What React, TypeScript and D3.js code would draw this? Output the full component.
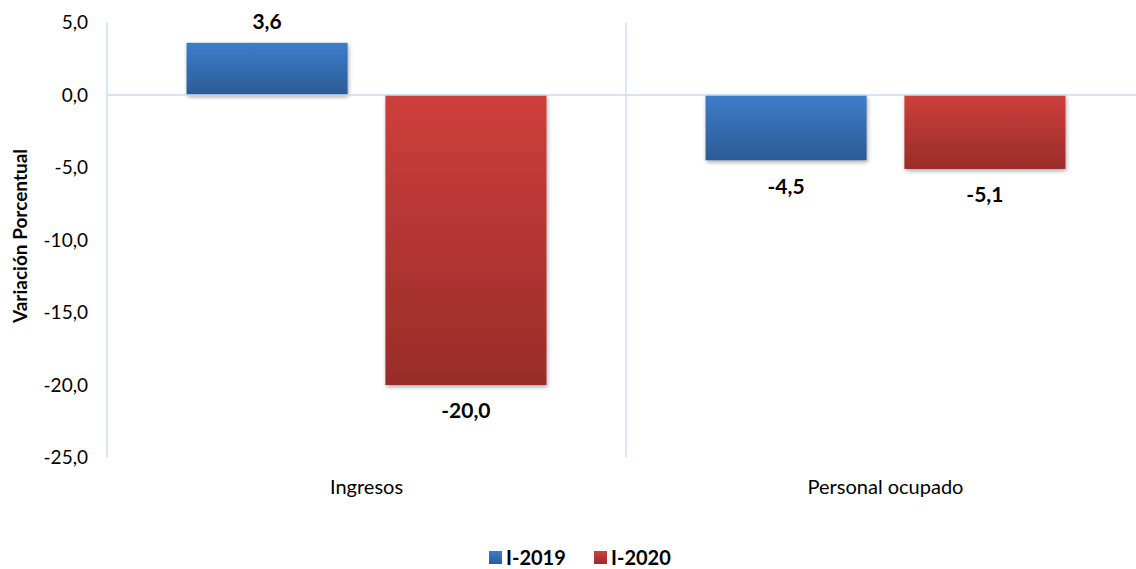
import React, { useRef, useEffect } from "react";
import * as d3 from "d3";

// chart data
const categories = ["Ingresos", "Personal ocupado"];
const seriesNames = ["I-2019", "I-2020"];
const values2019 = [3.6, -4.5];
const values2020 = [-20.0, -5.1];
const yTicks = [5, 0, -5, -10, -15, -20, -25];

const colors = [
    { top: "#3e7dcb", bottom: "#2b5b95" },
    { top: "#ce3f3c", bottom: "#992c29" },
];

const W = 1136;
const H = 569;
const FONT = "Lato, 'Open Sans', sans-serif";

const fmt = (v: number) => d3.format(".1f")(v).replace("−", "-").replace(".", ",");

export default function App() {
    const svgRef = useRef<SVGSVGElement | null>(null);

    useEffect(() => {
        if (!svgRef.current) return;
        const svg = d3.select(svgRef.current);
        svg.selectAll("*").remove();

        const left = 107;
        const right = 1145;
        const top = 22.5;
        const bottom = 457.5;

        const defs = svg.append("defs");
        colors.forEach((c, i) => {
            const g = defs
                .append("linearGradient")
                .attr("id", `grad${i}`)
                .attr("x1", 0)
                .attr("y1", 0)
                .attr("x2", 0)
                .attr("y2", 1);
            g.append("stop").attr("offset", "0%").attr("stop-color", c.top);
            g.append("stop").attr("offset", "100%").attr("stop-color", c.bottom);
        });
        const filter = defs
            .append("filter")
            .attr("id", "shadow")
            .attr("x", "-10%")
            .attr("y", "-10%")
            .attr("width", "130%")
            .attr("height", "130%");
        filter
            .append("feDropShadow")
            .attr("dx", 1)
            .attr("dy", 2)
            .attr("stdDeviation", 2)
            .attr("flood-color", "#000")
            .attr("flood-opacity", 0.35);

        const y = d3.scaleLinear().domain([-25, 5]).range([bottom, top]);
        const x0 = d3.scaleBand<string>().domain(categories).range([left, right]);
        const x1 = d3
            .scaleBand<string>()
            .domain(seriesNames)
            .range([0, x0.bandwidth()])
            .paddingInner(0.19)
            .paddingOuter(0.4);

        const gridColor = "#c9daf0";

        // vertical category separators
        const seps = [left, ...categories.map((c) => (x0(c) as number) + x0.bandwidth())];
        svg.append("g")
            .selectAll("line")
            .data(seps)
            .enter()
            .append("line")
            .attr("x1", (d) => d)
            .attr("x2", (d) => d)
            .attr("y1", top)
            .attr("y2", bottom)
            .attr("stroke", gridColor)
            .attr("stroke-width", 1.3);

        // y tick labels
        svg.append("g")
            .selectAll("text")
            .data(yTicks)
            .enter()
            .append("text")
            .attr("x", 88)
            .attr("y", (d) => y(d))
            .attr("dy", "0.35em")
            .attr("text-anchor", "end")
            .style("font-family", FONT)
            .style("font-size", "19px")
            .style("fill", "#000")
            .text((d) => fmt(d));

        // y title
        svg.append("text")
            .attr("transform", `translate(20, 236) rotate(-90)`)
            .attr("text-anchor", "middle")
            .attr("dy", "0.35em")
            .style("font-family", FONT)
            .style("font-size", "19px")
            .style("font-weight", "bold")
            .text("Variación Porcentual");

        const rows = categories.map((c, i) => ({
            cat: c,
            vals: [values2019[i], values2020[i]],
        }));

        const bars = rows.flatMap((r) =>
            r.vals.map((v, j) => ({ cat: r.cat, series: seriesNames[j], j, v }))
        );

        const bx = (d: { cat: string; series: string }) =>
            (x0(d.cat) as number) + (x1(d.series) as number);

        svg.append("g")
            .selectAll("rect")
            .data(bars)
            .enter()
            .append("rect")
            .attr("x", (d) => bx(d))
            .attr("width", x1.bandwidth())
            .attr("y", (d) => y(Math.max(0, d.v)))
            .attr("height", (d) => Math.abs(y(d.v) - y(0)))
            .attr("fill", (d) => `url(#grad${d.j})`)
            .attr("filter", "url(#shadow)");

        // zero line
        svg.append("line")
            .attr("x1", left)
            .attr("x2", right)
            .attr("y1", y(0))
            .attr("y2", y(0))
            .attr("stroke", gridColor)
            .attr("stroke-width", 1.3);

        // value labels
        svg.append("g")
            .selectAll("text")
            .data(bars)
            .enter()
            .append("text")
            .attr("x", (d) => bx(d) + x1.bandwidth() / 2)
            .attr("y", (d) => (d.v >= 0 ? y(d.v) - 21 : y(d.v) + 26))
            .attr("dy", "0.35em")
            .attr("text-anchor", "middle")
            .style("font-family", FONT)
            .style("font-size", "21px")
            .style("font-weight", "bold")
            .text((d) => fmt(d.v));

        // category labels
        svg.append("g")
            .selectAll("text")
            .data(categories)
            .enter()
            .append("text")
            .attr("x", (d) => (x0(d) as number) + x0.bandwidth() / 2)
            .attr("y", 487)
            .attr("dy", "0.35em")
            .attr("text-anchor", "middle")
            .style("font-family", FONT)
            .style("font-size", "20px")
            .text((d) => d);

        // legend
        const legendX = [489, 594];
        const legend = svg
            .append("g")
            .selectAll("g")
            .data(seriesNames)
            .enter()
            .append("g")
            .attr("transform", (_d, i) => `translate(${legendX[i]}, 558)`);
        legend
            .append("rect")
            .attr("x", 0)
            .attr("y", -7)
            .attr("width", 13)
            .attr("height", 13)
            .attr("fill", (_d, i) => `url(#grad${i})`);
        legend
            .append("text")
            .attr("x", 17)
            .attr("y", 0)
            .attr("dy", "0.35em")
            .style("font-family", FONT)
            .style("font-size", "20px")
            .style("font-weight", "bold")
            .text((d) => d);
    }, []);

    return (
        <div style={{ position: "absolute", left: 0, top: 0 }}>
            <svg ref={svgRef} width={W} height={H} style={{ display: "block", background: "#fff" }} />
        </div>
    );
}
